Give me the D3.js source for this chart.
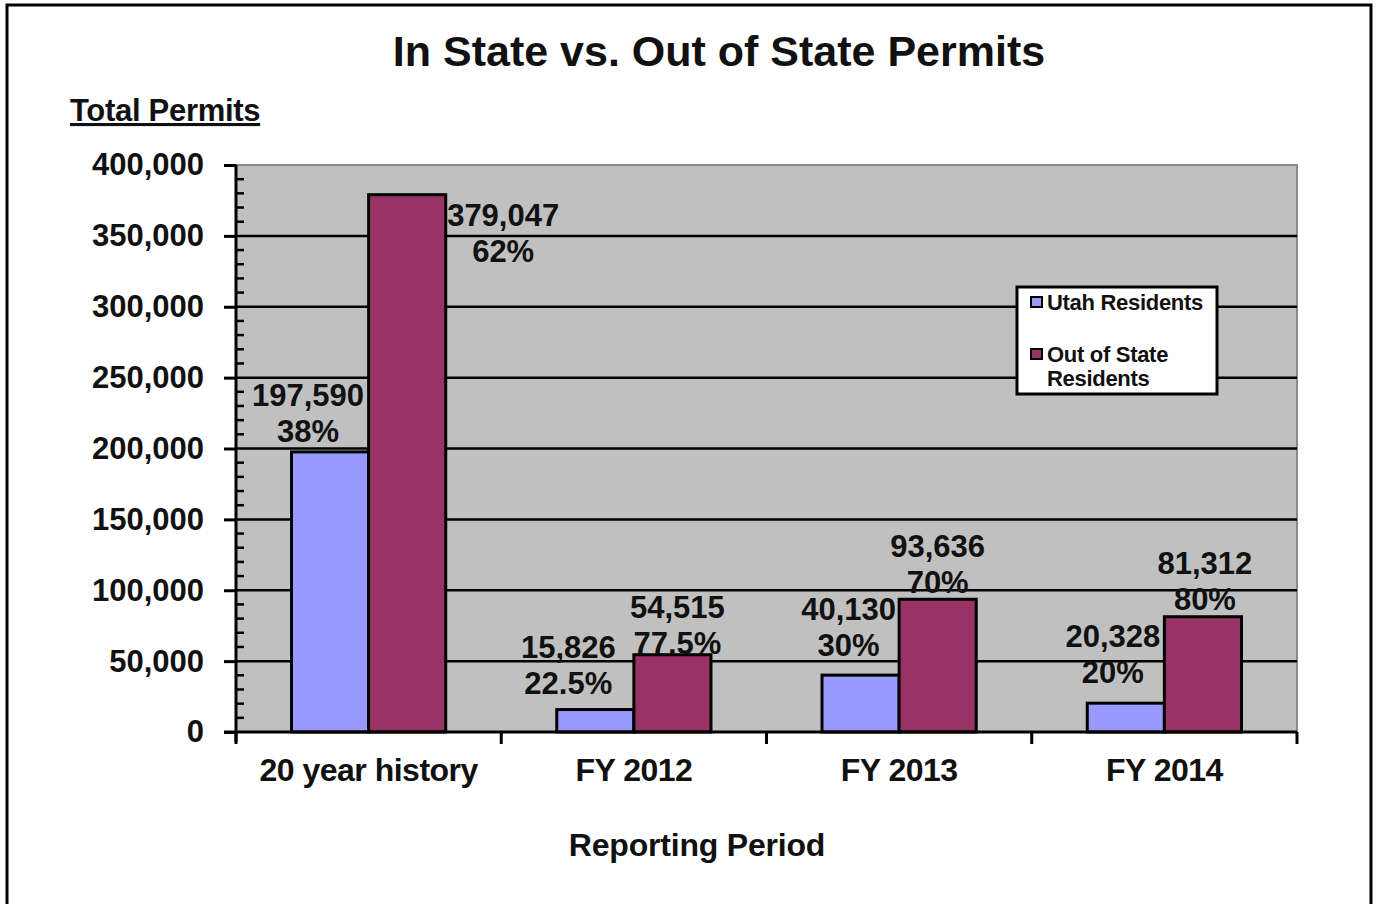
<!DOCTYPE html>
<html>
<head>
<meta charset="utf-8">
<script src="https://cdn.jsdelivr.net/npm/d3@7"></script>
<style>
  html, body { margin: 0; padding: 0; background: #fff; }
  svg { display: block; font-family: "Liberation Sans", Arial, sans-serif; }
</style>
</head>
<body>
<svg id="chart" width="1377" height="904"></svg>
<script>
// ---- data ----
const categories = ["20 year history", "FY 2012", "FY 2013", "FY 2014"];
const seriesNames = ["Utah Residents", "Out of State Residents"];
const utahValues = [197590, 15826, 40130, 20328];
const outValues = [379047, 54515, 93636, 81312];
const utahPct = ["38%", "22.5%", "30%", "20%"];
const outPct = ["62%", "77.5%", "70%", "80%"];
const yTicks = [0, 50000, 100000, 150000, 200000, 250000, 300000, 350000, 400000];

// ---- label placement (manual offsets as in the original, px from bar top-centre) ----
const utahLabelOffset = [[-22, -57], [-27, -63], [-12, -66], [-13, -67]];
const outLabelOffset = [[96, 20], [5, -48], [0, -53], [2, -54]];

const colors = ["#9999FF", "#993366"];

const svg = d3.select("#chart");

// outer border
svg.append("rect").attr("x", 7).attr("y", 5).attr("width", 1364).attr("height", 910)
  .attr("fill", "#fff").attr("stroke", "#000").attr("stroke-width", 3);

const plot = { left: 236, right: 1297, top: 165, bottom: 732 };

const x0 = d3.scaleBand().domain(categories).range([plot.left, plot.right]).paddingInner(0).paddingOuter(0);
const x1 = d3.scaleBand().domain(seriesNames).range([0, x0.bandwidth()]).paddingInner(0).paddingOuter(0.72);
const y = d3.scaleLinear().domain([0, 400000]).range([plot.bottom, plot.top]);

// plot background
svg.append("rect").attr("x", plot.left).attr("y", plot.top)
  .attr("width", plot.right - plot.left).attr("height", plot.bottom - plot.top)
  .attr("fill", "#C0C0C0").attr("stroke", "#8a8a8a").attr("stroke-width", 2);

// gridlines
svg.append("g").selectAll("line").data(yTicks.filter(d => d > 0 && d < 400000)).join("line")
  .attr("x1", plot.left).attr("x2", plot.right)
  .attr("y1", d => y(d)).attr("y2", d => y(d))
  .attr("stroke", "#000").attr("stroke-width", 2.5);

// bars
const groups = svg.append("g").selectAll("g").data(categories).join("g")
  .attr("transform", d => `translate(${x0(d)},0)`);

groups.each(function (cat, i) {
  const g = d3.select(this);
  const vals = [utahValues[i], outValues[i]];
  g.selectAll("rect").data(vals).join("rect")
    .attr("x", (d, j) => x1(seriesNames[j]))
    .attr("y", d => y(d))
    .attr("width", x1.bandwidth())
    .attr("height", d => y(0) - y(d))
    .attr("fill", (d, j) => colors[j])
    .attr("stroke", "#000").attr("stroke-width", 3);
});

// y axis
const yAxis = d3.axisLeft(y).tickValues(yTicks).tickSize(12).tickPadding(20)
  .tickFormat(d3.format(","));
const yg = svg.append("g").attr("transform", `translate(${plot.left},0)`).call(yAxis);
yg.select(".domain").remove();
yg.selectAll(".tick line").attr("stroke", "#000").attr("stroke-width", 3);
yg.selectAll(".tick text").attr("font-size", 31).attr("font-weight", "bold").attr("fill", "#111")
  .attr("font-family", "'Liberation Sans', Arial, sans-serif");
// minor ticks
const minor = d3.range(0, 400001, 10000).filter(d => d % 50000 !== 0);
svg.append("g").selectAll("line").data(minor).join("line")
  .attr("x1", plot.left).attr("x2", plot.left + 8)
  .attr("y1", d => y(d)).attr("y2", d => y(d))
  .attr("stroke", "#000").attr("stroke-width", 2.5);
svg.append("line").attr("x1", plot.left).attr("x2", plot.left)
  .attr("y1", plot.top).attr("y2", plot.bottom + 10).attr("stroke", "#000").attr("stroke-width", 3);

// x axis
svg.append("line").attr("x1", plot.left - 12).attr("x2", plot.right)
  .attr("y1", plot.bottom).attr("y2", plot.bottom).attr("stroke", "#000").attr("stroke-width", 3);
const bounds = categories.map(c => x0(c)).concat([plot.right]);
svg.append("g").selectAll("line").data(bounds).join("line")
  .attr("x1", d => d).attr("x2", d => d)
  .attr("y1", plot.bottom).attr("y2", plot.bottom + 12)
  .attr("stroke", "#000").attr("stroke-width", 3);
svg.append("g").selectAll("text").data(categories).join("text")
  .attr("x", d => x0(d) + x0.bandwidth() / 2)
  .attr("y", plot.bottom + 49)
  .attr("text-anchor", "middle")
  .attr("font-size", 32).attr("font-weight", "bold").attr("fill", "#111")
  .attr("letter-spacing", -0.5)
  .text(d => d);

// data labels
function addLabel(cx, cy, line1, line2) {
  const t = svg.append("text").attr("text-anchor", "middle")
    .attr("font-size", 31).attr("font-weight", "bold").attr("fill", "#111");
  t.append("tspan").attr("x", cx).attr("y", cy + 11).text(line1);
  t.append("tspan").attr("x", cx).attr("y", cy + 47).text(line2);
}
categories.forEach((c, i) => {
  const ux = x0(c) + x1(seriesNames[0]) + x1.bandwidth() / 2;
  const ox = x0(c) + x1(seriesNames[1]) + x1.bandwidth() / 2;
  addLabel(ux + utahLabelOffset[i][0], y(utahValues[i]) + utahLabelOffset[i][1],
    d3.format(",")(utahValues[i]), utahPct[i]);
  addLabel(ox + outLabelOffset[i][0], y(outValues[i]) + outLabelOffset[i][1],
    d3.format(",")(outValues[i]), outPct[i]);
});

// title
svg.append("text").attr("x", 719).attr("y", 66).attr("text-anchor", "middle")
  .attr("font-size", 43).attr("font-weight", "bold").attr("fill", "#111")
  .text("In State vs. Out of State Permits");

// y axis title (underlined)
svg.append("text").attr("x", 70).attr("y", 121)
  .attr("font-size", 31).attr("font-weight", "bold").attr("fill", "#111")
  .attr("letter-spacing", -0.3)
  .attr("text-decoration", "underline")
  .text("Total Permits");

// x axis title
svg.append("text").attr("x", 697).attr("y", 856).attr("text-anchor", "middle")
  .attr("font-size", 32).attr("font-weight", "bold").attr("fill", "#111")
  .attr("letter-spacing", -0.2)
  .text("Reporting Period");

// legend
const lg = svg.append("g");
lg.append("rect").attr("x", 1017).attr("y", 287).attr("width", 200).attr("height", 107)
  .attr("fill", "#fff").attr("stroke", "#000").attr("stroke-width", 3);
const legendRows = [{ y: 302, lines: ["Utah Residents"] }, { y: 354, lines: ["Out of State", "Residents"] }];
legendRows.forEach((r, i) => {
  lg.append("rect").attr("x", 1031).attr("y", r.y - 5).attr("width", 11).attr("height", 10)
    .attr("fill", colors[i]).attr("stroke", "#000").attr("stroke-width", 2);
  r.lines.forEach((ln, k) => {
    lg.append("text").attr("x", 1047).attr("y", r.y + 8 + k * 24)
      .attr("font-size", 22).attr("font-weight", "bold").attr("fill", "#111")
      .attr("letter-spacing", -0.3)
      .text(ln);
  });
});
</script>
</body>
</html>
